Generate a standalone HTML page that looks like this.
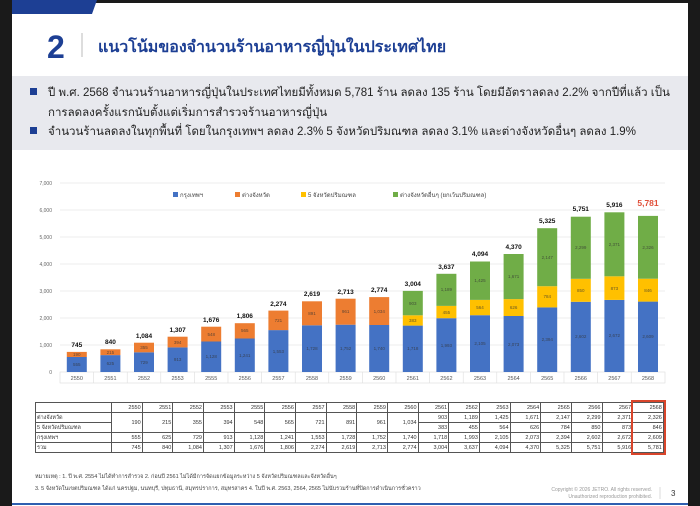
<!DOCTYPE html>
<html><head><meta charset="utf-8"><style>
body{margin:0;width:700px;height:506px;background:#1a1a1a;position:relative;overflow:hidden;font-family:"Liberation Sans","Noto Sans CJK SC",sans-serif;}
.page{position:absolute;left:12px;top:3px;width:676px;height:503px;background:#fff;}
.abs{position:absolute;}
table{border-collapse:collapse;table-layout:fixed;width:628px;position:absolute;left:35px;top:402px;font-size:5.5px;color:#333;font-family:"Liberation Sans","Noto Sans CJK SC",sans-serif;}
td{border:0.6px solid #555;height:9px;padding:0 1px;text-align:right;line-height:8px;overflow:hidden;white-space:nowrap;}
td.h{text-align:left;}
</style></head><body>
<div class="page"></div>
<svg class="abs" style="left:0;top:0" width="700" height="506">
<polygon points="12,0 97,0 92,14 12,14" fill="#1d3f94"/>
<line x1="12" y1="504" x2="688" y2="504" stroke="#2f5fb0" stroke-width="2"/>
<text x="47" y="58" font-size="32" font-weight="bold" fill="#1d3f94" font-family="Liberation Sans">2</text>
<line x1="82" y1="33" x2="82" y2="57" stroke="#bbb" stroke-width="1"/>
<text x="98" y="52" font-size="16" font-weight="bold" fill="#1d3f94" font-family="Liberation Sans, Noto Sans CJK SC, sans-serif">แนวโน้มของจำนวนร้านอาหารญี่ปุ่นในประเทศไทย</text>
<rect x="12" y="76" width="676" height="74" fill="#e8e9ee"/>
<rect x="30" y="88" width="7" height="7" fill="#1d3f94"/>
<rect x="30" y="127" width="7" height="7" fill="#1d3f94"/>
<g font-size="11.5" fill="#222" font-family="Liberation Sans, Noto Sans CJK SC, sans-serif">
<text x="48" y="96">ปี พ.ศ. 2568 จำนวนร้านอาหารญี่ปุ่นในประเทศไทยมีทั้งหมด 5,781 ร้าน ลดลง 135 ร้าน โดยมีอัตราลดลง 2.2% จากปีที่แล้ว เป็น</text>
<text x="48" y="116">การลดลงครั้งแรกนับตั้งแต่เริ่มการสำรวจร้านอาหารญี่ปุ่น</text>
<text x="48" y="135">จำนวนร้านลดลงในทุกพื้นที่ โดยในกรุงเทพฯ ลดลง 2.3% 5 จังหวัดปริมณฑล ลดลง 3.1% และต่างจังหวัดอื่นๆ ลดลง 1.9%</text>
</g>
<g stroke="#e6e6e6" stroke-width="0.7">
<line x1="60" y1="183" x2="665" y2="183"/><line x1="60" y1="210" x2="665" y2="210"/><line x1="60" y1="237" x2="665" y2="237"/><line x1="60" y1="264" x2="665" y2="264"/><line x1="60" y1="291" x2="665" y2="291"/><line x1="60" y1="318" x2="665" y2="318"/><line x1="60" y1="345" x2="665" y2="345"/>
</g>
<g font-size="5" fill="#666" text-anchor="end" font-family="Liberation Sans">
<text x="52" y="185">7,000</text><text x="52" y="212">6,000</text><text x="52" y="239">5,000</text><text x="52" y="266">4,000</text><text x="52" y="293">3,000</text><text x="52" y="320">2,000</text><text x="52" y="347">1,000</text><text x="52" y="374">0</text>
</g>
<g font-size="6" fill="#444" font-family="Liberation Sans, Noto Sans CJK SC, sans-serif">
<rect x="173" y="192" width="5" height="5" fill="#4472c4"/><text x="180" y="197">กรุงเทพฯ</text>
<rect x="235" y="192" width="5" height="5" fill="#ed7d31"/><text x="242" y="197">ต่างจังหวัด</text>
<rect x="301" y="192" width="5" height="5" fill="#ffc000"/><text x="308" y="197">5 จังหวัดปริมณฑล</text>
<rect x="393" y="192" width="5" height="5" fill="#70ad47"/><text x="400" y="197">ต่างจังหวัดอื่นๆ (ยกเว้นปริมณฑล)</text>
</g>
<rect x="60" y="372" width="605" height="11" fill="none" stroke="#ddd" stroke-width="0.6"/>
<g stroke="#ddd" stroke-width="0.6">
<line x1="93.6" y1="372" x2="93.6" y2="383"/><line x1="127.2" y1="372" x2="127.2" y2="383"/><line x1="160.8" y1="372" x2="160.8" y2="383"/><line x1="194.4" y1="372" x2="194.4" y2="383"/><line x1="228" y1="372" x2="228" y2="383"/><line x1="261.6" y1="372" x2="261.6" y2="383"/><line x1="295.2" y1="372" x2="295.2" y2="383"/><line x1="328.8" y1="372" x2="328.8" y2="383"/><line x1="362.4" y1="372" x2="362.4" y2="383"/><line x1="396" y1="372" x2="396" y2="383"/><line x1="429.6" y1="372" x2="429.6" y2="383"/><line x1="463.2" y1="372" x2="463.2" y2="383"/><line x1="496.8" y1="372" x2="496.8" y2="383"/><line x1="530.4" y1="372" x2="530.4" y2="383"/><line x1="564" y1="372" x2="564" y2="383"/><line x1="597.6" y1="372" x2="597.6" y2="383"/><line x1="631.2" y1="372" x2="631.2" y2="383"/>
</g>
<g font-size="5.5" fill="#555" text-anchor="middle" font-family="Liberation Sans">
<text x="76.8" y="380">2550</text><text x="110.4" y="380">2551</text><text x="144" y="380">2552</text><text x="177.6" y="380">2553</text><text x="211.2" y="380">2555</text><text x="244.8" y="380">2556</text><text x="278.4" y="380">2557</text><text x="312" y="380">2558</text><text x="345.6" y="380">2559</text><text x="379.2" y="380">2560</text><text x="412.8" y="380">2561</text><text x="446.4" y="380">2562</text><text x="480" y="380">2563</text><text x="513.6" y="380">2564</text><text x="547.2" y="380">2565</text><text x="580.8" y="380">2566</text><text x="614.4" y="380">2567</text><text x="648" y="380">2568</text>
</g>
<g fill="#4472c4">
<rect x="66.8" y="357" width="20" height="15"/><rect x="100.4" y="355.1" width="20" height="16.9"/><rect x="134" y="352.3" width="20" height="19.7"/><rect x="167.6" y="347.4" width="20" height="24.6"/><rect x="201.2" y="341.5" width="20" height="30.5"/><rect x="234.8" y="338.5" width="20" height="33.5"/><rect x="268.4" y="330.1" width="20" height="41.9"/><rect x="302" y="325.3" width="20" height="46.7"/><rect x="335.6" y="324.7" width="20" height="47.3"/><rect x="369.2" y="325" width="20" height="47"/><rect x="402.8" y="325.6" width="20" height="46.4"/><rect x="436.4" y="318.2" width="20" height="53.8"/><rect x="470" y="315.2" width="20" height="56.8"/><rect x="503.6" y="316" width="20" height="56"/><rect x="537.2" y="307.4" width="20" height="64.6"/><rect x="570.8" y="301.8" width="20" height="70.2"/><rect x="604.4" y="299.9" width="20" height="72.1"/><rect x="638" y="301.6" width="20" height="70.4"/>
</g>
<g fill="#ed7d31">
<rect x="66.8" y="351.9" width="20" height="5.1"/><rect x="100.4" y="349.3" width="20" height="5.8"/><rect x="134" y="342.7" width="20" height="9.6"/><rect x="167.6" y="336.7" width="20" height="10.7"/><rect x="201.2" y="326.7" width="20" height="14.8"/><rect x="234.8" y="323.2" width="20" height="15.3"/><rect x="268.4" y="310.6" width="20" height="19.5"/><rect x="302" y="301.3" width="20" height="24"/><rect x="335.6" y="298.7" width="20" height="26"/><rect x="369.2" y="297.1" width="20" height="27.9"/>
</g>
<g fill="#ffc000">
<rect x="402.8" y="315.3" width="20" height="10.3"/><rect x="436.4" y="305.9" width="20" height="12.3"/><rect x="470" y="299.9" width="20" height="15.3"/><rect x="503.6" y="299.1" width="20" height="16.9"/><rect x="537.2" y="286.2" width="20" height="21.2"/><rect x="570.8" y="278.8" width="20" height="23"/><rect x="604.4" y="276.3" width="20" height="23.6"/><rect x="638" y="278.7" width="20" height="22.9"/>
</g>
<g fill="#70ad47">
<rect x="402.8" y="290.9" width="20" height="24.4"/><rect x="436.4" y="273.8" width="20" height="32.1"/><rect x="470" y="261.5" width="20" height="38.4"/><rect x="503.6" y="254" width="20" height="45.1"/><rect x="537.2" y="228.2" width="20" height="58"/><rect x="570.8" y="216.7" width="20" height="62.1"/><rect x="604.4" y="212.3" width="20" height="64"/><rect x="638" y="215.9" width="20" height="62.8"/>
</g>
<g font-size="4.5" fill="#333" text-anchor="middle" font-family="Liberation Sans" opacity="0.75">
<text x="76.8" y="366">555</text><text x="110.4" y="365">625</text><text x="144" y="364">729</text><text x="177.6" y="361">913</text><text x="211.2" y="358">1,128</text><text x="244.8" y="357">1,241</text><text x="278.4" y="353">1,553</text><text x="312" y="350">1,728</text><text x="345.6" y="350">1,752</text><text x="379.2" y="350">1,740</text><text x="412.8" y="350">1,718</text><text x="446.4" y="347">1,993</text><text x="480" y="345">2,105</text><text x="513.6" y="346">2,073</text><text x="547.2" y="341">2,394</text><text x="580.8" y="338">2,602</text><text x="614.4" y="337">2,672</text><text x="648" y="338">2,609</text>
<text x="76.8" y="356">190</text><text x="110.4" y="354">215</text><text x="144" y="349">355</text><text x="177.6" y="344">394</text><text x="211.2" y="336">548</text><text x="244.8" y="332">565</text><text x="278.4" y="322">721</text><text x="312" y="315">891</text><text x="345.6" y="313">961</text><text x="379.2" y="313">1,034</text>
<text x="412.8" y="322">383</text><text x="446.4" y="314">455</text><text x="480" y="309">564</text><text x="513.6" y="309">626</text><text x="547.2" y="298">784</text><text x="580.8" y="292">850</text><text x="614.4" y="290">873</text><text x="648" y="292">846</text>
<text x="412.8" y="305">903</text><text x="446.4" y="291">1,189</text><text x="480" y="282">1,425</text><text x="513.6" y="278">1,671</text><text x="547.2" y="259">2,147</text><text x="580.8" y="249">2,299</text><text x="614.4" y="246">2,371</text><text x="648" y="249">2,326</text>
</g>
<g font-size="6.5" font-weight="bold" fill="#111" text-anchor="middle" font-family="Liberation Sans">
<text x="76.8" y="347">745</text><text x="110.4" y="344">840</text><text x="144" y="338">1,084</text><text x="177.6" y="332">1,307</text><text x="211.2" y="322">1,676</text><text x="244.8" y="318">1,806</text><text x="278.4" y="306">2,274</text><text x="312" y="296">2,619</text><text x="345.6" y="294">2,713</text><text x="379.2" y="292">2,774</text><text x="412.8" y="286">3,004</text><text x="446.4" y="269">3,637</text><text x="480" y="256">4,094</text><text x="513.6" y="249">4,370</text><text x="547.2" y="223">5,325</text><text x="580.8" y="211">5,751</text><text x="614.4" y="207">5,916</text>
</g>
<text x="648" y="206" font-size="8.5" font-weight="bold" fill="#e0503a" text-anchor="middle" font-family="Liberation Sans">5,781</text>
<g font-size="5.5" fill="#444" font-family="Liberation Sans, Noto Sans CJK SC, sans-serif">
<text x="35" y="478">หมายเหตุ : 1. ปี พ.ศ. 2554 ไม่ได้ทำการสำรวจ 2. ก่อนปี 2561 ไม่ได้มีการจัดแยกข้อมูลระหว่าง 5 จังหวัดปริมณฑลและจังหวัดอื่นๆ</text>
<text x="35" y="490">3. 5 จังหวัดในเขตปริมณฑล ได้แก่ นครปฐม, นนทบุรี, ปทุมธานี, สมุทรปราการ, สมุทรสาคร 4. ในปี พ.ศ. 2563, 2564, 2565 ไม่นับรวมร้านที่ปิดการดำเนินการชั่วคราว</text>
</g>
<g font-size="5" fill="#999" text-anchor="end" font-family="Liberation Sans">
<text x="652" y="491">Copyright © 2026 JETRO. All rights reserved.</text>
<text x="652" y="498">Unauthorized reproduction prohibited.</text>
</g>
<line x1="660" y1="487" x2="660" y2="499" stroke="#ccc" stroke-width="0.7"/>
<text x="671" y="496" font-size="8" fill="#333" font-family="Liberation Sans">3</text>
</svg>
<table>
<colgroup><col style="width:76px"><col span="18" style="width:30.67px"></colgroup>
<tr><td class="h"></td><td>2550</td><td>2551</td><td>2552</td><td>2553</td><td>2555</td><td>2556</td><td>2557</td><td>2558</td><td>2559</td><td>2560</td><td>2561</td><td>2562</td><td>2563</td><td>2564</td><td>2565</td><td>2566</td><td>2567</td><td>2568</td></tr>
<tr><td class="h">ต่างจังหวัด</td><td rowspan="2">190</td><td rowspan="2">215</td><td rowspan="2">355</td><td rowspan="2">394</td><td rowspan="2">548</td><td rowspan="2">565</td><td rowspan="2">721</td><td rowspan="2">891</td><td rowspan="2">961</td><td rowspan="2">1,034</td><td>903</td><td>1,189</td><td>1,425</td><td>1,671</td><td>2,147</td><td>2,299</td><td>2,371</td><td>2,326</td></tr>
<tr><td class="h">5 จังหวัดปริมณฑล</td><td>383</td><td>455</td><td>564</td><td>626</td><td>784</td><td>850</td><td>873</td><td>846</td></tr>
<tr><td class="h">กรุงเทพฯ</td><td>555</td><td>625</td><td>729</td><td>913</td><td>1,128</td><td>1,241</td><td>1,553</td><td>1,728</td><td>1,752</td><td>1,740</td><td>1,718</td><td>1,993</td><td>2,105</td><td>2,073</td><td>2,394</td><td>2,602</td><td>2,672</td><td>2,609</td></tr>
<tr><td class="h">รวม</td><td>745</td><td>840</td><td>1,084</td><td>1,307</td><td>1,676</td><td>1,806</td><td>2,274</td><td>2,619</td><td>2,713</td><td>2,774</td><td>3,004</td><td>3,637</td><td>4,094</td><td>4,370</td><td>5,325</td><td>5,751</td><td>5,916</td><td>5,781</td></tr>
</table>
<div class="abs" style="left:631px;top:400px;width:31px;height:51px;border:2px solid #d9452b;"></div>
</body></html>
